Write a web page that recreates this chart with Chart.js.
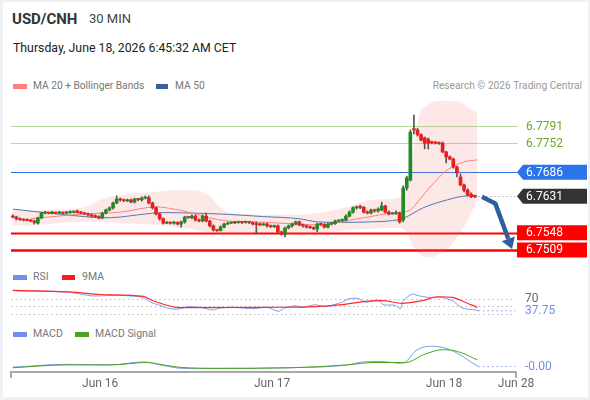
<!DOCTYPE html>
<html>
<head>
<meta charset="utf-8">
<script src="https://cdn.jsdelivr.net/npm/chart.js@4.4.1/dist/chart.umd.min.js"></script>
<style>
  html, body { margin: 0; padding: 0; }
  body { width: 590px; height: 400px; background: #eef1f5; position: relative; overflow: hidden;
         font-family: Roboto, "Liberation Sans", Arial, sans-serif; }
  #card { position: absolute; left: 3px; top: 2px; width: 585px; height: 395px; background: #fff; }
  .txt { position: absolute; white-space: nowrap; line-height: 1; }
  .sw { position: absolute; height: 5px; }
  canvas { position: absolute; left: 0; }
</style>
</head>
<body>
<div id="card"></div>

<div class="txt" style="left:12px; top:12px; font-size:15px; font-weight:bold; color:#333">USD/CNH</div>
<div class="txt" style="left:89px; top:12px; font-size:13px; color:#444">30 MIN</div>
<div class="txt" style="left:13px; top:42px; font-size:12.3px; color:#222">Thursday, June 18, 2026 6:45:32 AM CET</div>

<div class="sw" style="left:13px; top:84px; width:14px; background:#ff7f7f"></div>
<div class="txt" style="left:33px; top:81px; font-size:10.2px; color:#777">MA 20 + Bollinger Bands</div>
<div class="sw" style="left:156px; top:84px; width:12px; background:#3a609e"></div>
<div class="txt" style="left:175px; top:81px; font-size:10.2px; color:#777">MA 50</div>
<div class="txt" style="right:8px; top:81px; font-size:10.2px; color:#999">Research © 2026 Trading Central</div>

<div class="sw" style="left:13px; top:275px; width:14px; background:#6f8fe8"></div>
<div class="txt" style="left:33px; top:272px; font-size:10.5px; color:#777">RSI</div>
<div class="sw" style="left:62px; top:275px; width:13px; background:#ff1a1a"></div>
<div class="txt" style="left:82px; top:272px; font-size:10.5px; color:#777">9MA</div>

<div class="sw" style="left:13px; top:332px; width:14px; background:#6f8fe8"></div>
<div class="txt" style="left:33px; top:329px; font-size:10.5px; color:#777">MACD</div>
<div class="sw" style="left:75px; top:332px; width:14px; background:#4aa31a"></div>
<div class="txt" style="left:95px; top:329px; font-size:10.5px; color:#777">MACD Signal</div>

<canvas id="price" width="590" height="164" style="top:98px"></canvas>
<canvas id="rsi" width="590" height="33" style="top:286px"></canvas>
<canvas id="macd" width="590" height="57" style="top:340px"></canvas>

<script>
// 30 min candles
const opens = [
  6.7586, 6.7584, 6.7580, 6.7578, 6.7577, 6.7577, 6.7575, 6.7570, 6.7582, 6.7593,
  6.7594, 6.7593, 6.7594, 6.7593, 6.7594, 6.7593, 6.7594, 6.7595, 6.7598, 6.7594,
  6.7593, 6.7591, 6.7589, 6.7586, 6.7585, 6.7582, 6.7593, 6.7600, 6.7605, 6.7616,
  6.7625, 6.7623, 6.7621, 6.7623, 6.7618, 6.7625, 6.7623, 6.7627, 6.7628, 6.7616,
  6.7605, 6.7591, 6.7580, 6.7570, 6.7572, 6.7570, 6.7572, 6.7568, 6.7573, 6.7584,
  6.7582, 6.7586, 6.7577, 6.7575, 6.7586, 6.7575, 6.7564, 6.7555, 6.7553, 6.7561,
  6.7568, 6.7570, 6.7572, 6.7571, 6.7573, 6.7572, 6.7573, 6.7572, 6.7568, 6.7567,
  6.7566, 6.7568, 6.7564, 6.7562, 6.7564, 6.7550, 6.7545, 6.7559, 6.7564, 6.7568,
  6.7573, 6.7566, 6.7564, 6.7561, 6.7560, 6.7557, 6.7568, 6.7567, 6.7561, 6.7568,
  6.7569, 6.7575, 6.7576, 6.7577, 6.7586, 6.7595, 6.7605, 6.7607, 6.7606, 6.7595,
  6.7593, 6.7600, 6.7598, 6.7600, 6.7609, 6.7595, 6.7591, 6.7592, 6.7593, 6.7577,
  6.7650, 6.7668, 6.7785, 6.7782, 6.7771, 6.7764, 6.7761, 6.7755, 6.7753, 6.7752,
  6.7752, 6.7732, 6.7721, 6.7716, 6.7698, 6.7675, 6.7657, 6.7645, 6.7636, 6.7632
];
const closes = [
  6.7584, 6.7580, 6.7578, 6.7577, 6.7576, 6.7575, 6.7572, 6.7582, 6.7593, 6.7594,
  6.7593, 6.7594, 6.7593, 6.7594, 6.7593, 6.7594, 6.7595, 6.7596, 6.7594, 6.7593,
  6.7591, 6.7589, 6.7586, 6.7585, 6.7582, 6.7593, 6.7600, 6.7605, 6.7616, 6.7625,
  6.7623, 6.7621, 6.7623, 6.7618, 6.7625, 6.7624, 6.7627, 6.7628, 6.7616, 6.7605,
  6.7591, 6.7580, 6.7570, 6.7572, 6.7570, 6.7572, 6.7568, 6.7573, 6.7584, 6.7583,
  6.7586, 6.7577, 6.7575, 6.7586, 6.7575, 6.7564, 6.7555, 6.7553, 6.7561, 6.7568,
  6.7570, 6.7572, 6.7571, 6.7573, 6.7572, 6.7573, 6.7572, 6.7568, 6.7567, 6.7566,
  6.7568, 6.7564, 6.7562, 6.7564, 6.7550, 6.7545, 6.7559, 6.7564, 6.7568, 6.7573,
  6.7566, 6.7564, 6.7561, 6.7560, 6.7557, 6.7568, 6.7567, 6.7561, 6.7568, 6.7569,
  6.7575, 6.7576, 6.7577, 6.7586, 6.7595, 6.7605, 6.7607, 6.7606, 6.7595, 6.7593,
  6.7600, 6.7598, 6.7602, 6.7609, 6.7595, 6.7591, 6.7592, 6.7593, 6.7573, 6.7650,
  6.7673, 6.7777, 6.7782, 6.7771, 6.7759, 6.7752, 6.7752, 6.7753, 6.7752, 6.7751,
  6.7732, 6.7721, 6.7716, 6.7698, 6.7684, 6.7657, 6.7645, 6.7634, 6.7630, 6.7631
];
const highs = [
  6.7589, 6.7586, 6.7582, 6.7580, 6.7580, 6.7578, 6.7577, 6.7584, 6.7595, 6.7597,
  6.7595, 6.7597, 6.7595, 6.7597, 6.7595, 6.7597, 6.7598, 6.7598, 6.7600, 6.7597,
  6.7595, 6.7593, 6.7591, 6.7589, 6.7587, 6.7595, 6.7602, 6.7607, 6.7618, 6.7632,
  6.7627, 6.7625, 6.7625, 6.7625, 6.7627, 6.7626, 6.7630, 6.7632, 6.7632, 6.7618,
  6.7607, 6.7593, 6.7582, 6.7574, 6.7573, 6.7574, 6.7573, 6.7575, 6.7586, 6.7585,
  6.7589, 6.7589, 6.7580, 6.7589, 6.7593, 6.7577, 6.7566, 6.7556, 6.7564, 6.7570,
  6.7573, 6.7573, 6.7574, 6.7575, 6.7574, 6.7575, 6.7574, 6.7573, 6.7573, 6.7570,
  6.7570, 6.7570, 6.7566, 6.7566, 6.7566, 6.7552, 6.7561, 6.7566, 6.7570, 6.7575,
  6.7575, 6.7568, 6.7566, 6.7564, 6.7562, 6.7570, 6.7570, 6.7569, 6.7570, 6.7572,
  6.7577, 6.7578, 6.7580, 6.7589, 6.7598, 6.7607, 6.7609, 6.7611, 6.7608, 6.7598,
  6.7602, 6.7602, 6.7605, 6.7618, 6.7611, 6.7598, 6.7594, 6.7598, 6.7595, 6.7655,
  6.7677, 6.7782, 6.7816, 6.7786, 6.7773, 6.7766, 6.7764, 6.7757, 6.7756, 6.7755,
  6.7755, 6.7734, 6.7723, 6.7718, 6.7700, 6.7682, 6.7659, 6.7648, 6.7639, 6.7634
];
const lows = [
  6.7582, 6.7577, 6.7576, 6.7575, 6.7575, 6.7573, 6.7568, 6.7568, 6.7580, 6.7591,
  6.7591, 6.7591, 6.7591, 6.7592, 6.7591, 6.7591, 6.7592, 6.7593, 6.7593, 6.7591,
  6.7589, 6.7586, 6.7584, 6.7583, 6.7580, 6.7580, 6.7591, 6.7598, 6.7602, 6.7614,
  6.7620, 6.7619, 6.7619, 6.7616, 6.7616, 6.7621, 6.7620, 6.7625, 6.7614, 6.7602,
  6.7589, 6.7577, 6.7568, 6.7569, 6.7568, 6.7568, 6.7566, 6.7561, 6.7570, 6.7581,
  6.7580, 6.7575, 6.7573, 6.7573, 6.7573, 6.7561, 6.7552, 6.7551, 6.7552, 6.7559,
  6.7567, 6.7569, 6.7569, 6.7570, 6.7569, 6.7570, 6.7569, 6.7566, 6.7548, 6.7565,
  6.7565, 6.7561, 6.7560, 6.7560, 6.7548, 6.7543, 6.7539, 6.7557, 6.7561, 6.7566,
  6.7564, 6.7561, 6.7559, 6.7558, 6.7555, 6.7550, 6.7565, 6.7559, 6.7559, 6.7566,
  6.7567, 6.7573, 6.7574, 6.7575, 6.7584, 6.7593, 6.7602, 6.7603, 6.7593, 6.7591,
  6.7591, 6.7595, 6.7595, 6.7598, 6.7593, 6.7589, 6.7590, 6.7590, 6.7570, 6.7573,
  6.7645, 6.7666, 6.7773, 6.7768, 6.7757, 6.7739, 6.7739, 6.7750, 6.7750, 6.7749,
  6.7730, 6.7707, 6.7714, 6.7695, 6.7675, 6.7655, 6.7641, 6.7632, 6.7628, 6.7628
];

// moving averages and bands (candle index, price)
const ma20X = [5, 10, 20, 30, 40, 45, 50, 55, 60, 70, 80, 85.8, 94.2, 102.6, 108, 111, 113.7, 116.5, 121.3, 125.8, 129.7];
const ma20Y = [6.7580, 6.7584, 6.7591, 6.7595, 6.7607, 6.7602, 6.7593, 6.7582, 6.7575, 6.7572, 6.7568, 6.7566,
               6.7577, 6.7589, 6.7595, 6.7600, 6.7625, 6.7652, 6.7691, 6.7709, 6.7714];
const ma50X = [0, 10, 20, 25, 30, 35, 42, 50, 60, 70, 80, 85, 90, 95, 100, 105, 109, 114.6, 121.3, 126.9, 129.7];
const ma50Y = [6.7602, 6.7593, 6.7585, 6.7582, 6.7584, 6.7589, 6.7594, 6.7593, 6.7590, 6.7585, 6.7580, 6.7573,
               6.7572, 6.7572, 6.7573, 6.7575, 6.7581, 6.7605, 6.7623, 6.7632, 6.7630];
const bandX = [0, 5, 10, 20, 25, 30, 35, 40, 45, 50, 55, 58, 60, 65, 70, 80, 85, 90, 95, 100, 105, 108,
               110, 111.8, 113.7, 115, 117.4, 119.3, 121.3, 124.9, 126.9, 129.7];
const bandUp = [6.7600, 6.7598, 6.7600, 6.7607, 6.7625, 6.7634, 6.7639, 6.7641, 6.7645, 6.7645, 6.7632, 6.7605,
                6.7595, 6.7591, 6.7589, 6.7589, 6.7593, 6.7600, 6.7611, 6.7623, 6.7625, 6.7628,
                6.7661, 6.7736, 6.7823, 6.7834, 6.7846, 6.7848, 6.7848, 6.7846, 6.7834, 6.7821];
const bandLo = [6.7566, 6.7564, 6.7568, 6.7573, 6.7573, 6.7570, 6.7568, 6.7566, 6.7561, 6.7557, 6.7548, 6.7545,
                6.7543, 6.7545, 6.7548, 6.7543, 6.7545, 6.7550, 6.7555, 6.7557, 6.7559, 6.7559,
                6.7550, 6.7516, 6.7500, 6.7493, 6.7493, 6.7502, 6.7510, 6.7548, 6.7575, 6.7623];

// support / resistance levels on the right
const levels = [6.7791, 6.7752, 6.7686, 6.7631, 6.7548, 6.7509];

// projected path (candle index, price)
const projX = [131, 134.7, 139.4];
const projY = [6.7630, 6.7615, 6.7511];

// RSI panel
const rsiX = [0, 15.1, 18.8, 22.4, 29.1, 35.5, 37.5, 39.2, 41.1, 43.1, 45.9, 48.7, 52.3, 55.9, 57.9, 61.5,
              67.1, 71, 74.1, 76, 78.8, 81, 84.4, 87.2, 91.9, 93.6, 96.4, 98.4, 102, 103.4, 106.8, 108.2,
              109, 111.5, 113.2, 116, 119.9, 122.7, 125.5, 129.1, 130];
const rsiY = [91.3, 87.9, 82.5, 77.2, 79.1, 75.3, 66.5, 57.7, 52.4, 45.2, 41.7, 48.7, 47.1, 39.9, 45.2, 47.1,
              43.3, 47.1, 36.4, 45.2, 51.3, 47.1, 54, 48.7, 60.4, 69.2, 71.1, 60.4, 66.5, 54, 52.4, 42.5,
              64.7, 82.5, 78, 73.7, 73.7, 64.7, 45.2, 39.9, 37.75];
const ma9X = [0, 17.9, 24.4, 36.4, 39.2, 46.7, 71, 84.4, 91.9, 98.4, 103.1, 108.7, 114.3, 118.7, 122.7, 126.3, 129.7];
const ma9Y = [92.4, 87.1, 81.2, 76.4, 64.7, 46, 47, 48.7, 54, 63.1, 64.7, 57.7, 64.7, 75.3, 73.7, 60.4, 47];
const rsiRefs = [70, 50, 30];

// MACD panel
const macdX = [0, 15.1, 27.2, 36.4, 42, 47.5, 57, 77.4, 93.4, 97, 102.6, 108.2, 109.6, 112.3, 114.6, 117.4,
               120.7, 124.1, 127.7, 130];
const macdY = [-0.00004, 0.0001, 0.00007, 0.00022, 0.00004, -0.0001, -0.0001, -0.00007, 0.00007, 0.0002,
               0.00024, 0.00015, 0.0002, 0.00074, 0.00094, 0.00099, 0.0009, 0.00065, 0.00024, -0.00001];
const sigX = [0, 15.1, 27.2, 37.5, 41.1, 46.7, 57, 77.4, 93.4, 100.6, 108.2, 110.1, 114.6, 120.2, 124.1, 129.7];
const sigY = [-0.00007, 0.00007, 0.00007, 0.00019, 0.0001, -0.00005, -0.0001, -0.00007, 0.00007, 0.00019,
              0.00019, 0.0002, 0.00057, 0.00082, 0.00074, 0.00032];

// time axis
const tickPos = [24.4, 72.4, 120.4, 140.5];
const tickLabels = ["Jun 16", "Jun 17", "Jun 18", "Jun 28"];
const lastX = 130, endX = 140.3;

Chart.defaults.font.family = "Roboto, 'Liberation Sans', Arial, sans-serif";
Chart.defaults.animation = false;
Chart.defaults.plugins.legend.display = false;
Chart.defaults.plugins.tooltip.enabled = false;

const pad = { left: 11, right: 74, top: 0, bottom: 0 };
const xAxis = { type: "linear", min: -0.5, max: 140.5, display: false, offset: false };
const pts = (xs, ys) => xs.map((v, i) => ({ x: v, y: ys[i] }));
const UP = "#228a22", DOWN = "#ee1c1c";
const FONT = "12px Roboto, 'Liberation Sans', Arial, sans-serif";

const levelStyles = [
  { line: "#b6da9c", width: 1, text: "#69a82f" },
  { line: "#bcd6aa", width: 1, text: "#69a82f" },
  { line: "#2a73e8", width: 1, box: "#2a73e8", tip: true },
  { line: "#888", width: 1, dash: [1, 3], box: "#333", tip: true, fromLast: true },
  { line: "#ff0000", width: 2, box: "#ff0000" },
  { line: "#ff0000", width: 2.5, box: "#ff0000" }
];

const levelPlugin = {
  id: "levels",
  beforeDatasetsDraw(chart) {
    const { ctx, chartArea, scales: { x, y } } = chart;
    ctx.save();
    levels.forEach((lv, k) => {
      const st = levelStyles[k];
      const py = Math.round(y.getPixelForValue(lv)) + 0.5;
      const x0 = st.fromLast ? x.getPixelForValue(lastX) : chartArea.left;
      ctx.strokeStyle = st.line;
      ctx.lineWidth = st.width;
      ctx.setLineDash(st.dash || []);
      ctx.beginPath();
      ctx.moveTo(x0, py);
      ctx.lineTo(chartArea.right + 2, py);
      ctx.stroke();
    });
    ctx.restore();
  },
  afterDatasetsDraw(chart) {
    const { ctx, chartArea, scales: { x, y } } = chart;
    ctx.save();
    ctx.font = FONT;
    ctx.textBaseline = "middle";
    levels.forEach((lv, k) => {
      const st = levelStyles[k];
      const py = y.getPixelForValue(lv);
      const l = chartArea.right + 1, r = 587, h = 7.5;
      if (st.box) {
        ctx.fillStyle = st.box;
        ctx.beginPath();
        if (st.tip) {
          ctx.moveTo(l, py);
          ctx.lineTo(l + 6, py - h);
          ctx.lineTo(r, py - h);
          ctx.lineTo(r, py + h);
          ctx.lineTo(l + 6, py + h);
        } else {
          ctx.rect(l, py - h, r - l, h * 2);
        }
        ctx.closePath();
        ctx.fill();
        ctx.fillStyle = "#fff";
      } else {
        ctx.fillStyle = st.text;
      }
      ctx.fillText(lv.toFixed(4), 526, py + 0.5);
    });

    // projection arrow
    const p = projX.map((v, k) => ({ x: x.getPixelForValue(v), y: y.getPixelForValue(projY[k]) }));
    const tip = p[p.length - 1], prev = p[p.length - 2];
    const dx = tip.x - prev.x, dy = tip.y - prev.y, len = Math.hypot(dx, dy);
    const ux = dx / len, uy = dy / len;
    const bx = tip.x - ux * 11, by = tip.y - uy * 11;
    ctx.strokeStyle = "#2f5e9e";
    ctx.fillStyle = "#2f5e9e";
    ctx.lineWidth = 4.5;
    ctx.lineJoin = "round";
    ctx.beginPath();
    ctx.moveTo(p[0].x, p[0].y);
    for (let k = 1; k < p.length - 1; k++) ctx.lineTo(p[k].x, p[k].y);
    ctx.lineTo(bx, by);
    ctx.stroke();
    ctx.beginPath();
    ctx.moveTo(tip.x, tip.y);
    ctx.lineTo(bx - uy * 7, by + ux * 7);
    ctx.lineTo(bx + uy * 7, by - ux * 7);
    ctx.closePath();
    ctx.fill();
    ctx.restore();
  }
};

new Chart(document.getElementById("price"), {
  type: "bar",
  data: {
    datasets: [
      {
        data: opens.map((o, i) => ({ x: i, y: [o, closes[i]] })),
        backgroundColor: (c) => {
          const i = c.dataIndex;
          return closes[i] > opens[i] ? UP : closes[i] < opens[i] ? DOWN : "#555";
        },
        barThickness: 3, minBarLength: 1, grouped: false, order: 1
      },
      {
        data: lows.map((l, i) => ({ x: i, y: [l, highs[i]] })),
        backgroundColor: "#555",
        barThickness: 1, grouped: false, order: 2
      },
      {
        type: "line", data: pts(ma20X, ma20Y), borderColor: "#ff8080", borderWidth: 1,
        pointRadius: 0, cubicInterpolationMode: "monotone", order: 3
      },
      {
        type: "line", data: pts(ma50X, ma50Y), borderColor: "#5677ad", borderWidth: 1,
        pointRadius: 0, cubicInterpolationMode: "monotone", order: 4
      },
      {
        type: "line", data: pts(bandX, bandUp), borderWidth: 0, borderColor: "rgba(0,0,0,0)",
        backgroundColor: "rgba(245,110,110,0.16)", fill: "+1",
        pointRadius: 0, cubicInterpolationMode: "monotone", order: 10
      },
      {
        type: "line", data: pts(bandX, bandLo), borderWidth: 0, borderColor: "rgba(0,0,0,0)",
        pointRadius: 0, cubicInterpolationMode: "monotone", order: 11
      }
    ]
  },
  options: {
    responsive: false,
    layout: { padding: pad },
    scales: {
      x: xAxis,
      y: { type: "linear", min: 6.74817, max: 6.78547, display: false }
    }
  },
  plugins: [levelPlugin]
});

const rsiPlugin = {
  id: "rsiRefs",
  beforeDatasetsDraw(chart) {
    const { ctx, chartArea, scales: { y } } = chart;
    ctx.save();
    ctx.strokeStyle = "#bbb";
    ctx.lineWidth = 1;
    ctx.setLineDash([1.5, 3]);
    rsiRefs.forEach((v) => {
      const py = Math.round(y.getPixelForValue(v)) + 0.5;
      ctx.beginPath();
      ctx.moveTo(chartArea.left, py);
      ctx.lineTo(chartArea.right - 1, py);
      ctx.stroke();
    });
    ctx.restore();
  },
  afterDatasetsDraw(chart) {
    const { ctx, chartArea, scales: { y } } = chart;
    ctx.save();
    ctx.font = FONT;
    ctx.textBaseline = "middle";
    ctx.fillStyle = "#666";
    ctx.fillText(String(rsiRefs[0]), chartArea.right + 9, y.getPixelForValue(rsiRefs[0]));
    ctx.fillStyle = "#6f8fe8";
    const last = rsiY[rsiY.length - 1];
    ctx.fillText(last.toFixed(2), chartArea.right + 9, y.getPixelForValue(last));
    ctx.restore();
  }
};

new Chart(document.getElementById("rsi"), {
  type: "line",
  data: {
    datasets: [
      { data: pts(ma9X, ma9Y), borderColor: "#ff2a2a", borderWidth: 1.2, pointRadius: 0, cubicInterpolationMode: "monotone", order: 1 },
      { data: pts(rsiX, rsiY), borderColor: "#7b9cf0", borderWidth: 1, pointRadius: 0, tension: 0.2, order: 2 },
      { data: [{ x: lastX, y: rsiY[rsiY.length - 1] }, { x: endX, y: rsiY[rsiY.length - 1] }],
        borderColor: "#7b9cf0", borderWidth: 1, borderDash: [1.5, 3], pointRadius: 0, order: 3 }
    ]
  },
  options: {
    responsive: false,
    layout: { padding: pad },
    scales: {
      x: xAxis,
      y: { type: "linear", min: 15.9, max: 103.9, display: false }
    }
  },
  plugins: [rsiPlugin]
});

// time axis under the MACD panel, placed through the x scale
const macdPlugin = {
  id: "macdExtras",
  afterDraw(chart) {
    const { ctx, chartArea, scales: { x, y } } = chart;
    const ay = chartArea.bottom + 1;
    ctx.save();
    ctx.strokeStyle = "#aaa";
    ctx.lineWidth = 2;
    ctx.beginPath();
    ctx.moveTo(chartArea.left, ay + 6);
    ctx.lineTo(chartArea.left, ay);
    ctx.lineTo(chartArea.right, ay);
    ctx.lineTo(chartArea.right, ay + 6);
    ctx.stroke();
    ctx.font = FONT;
    ctx.textBaseline = "middle";
    ctx.textAlign = "center";
    ctx.fillStyle = "#666";
    tickPos.forEach((v, i) => ctx.fillText(tickLabels[i], x.getPixelForValue(v), ay + 11.5));
    ctx.textAlign = "left";
    ctx.fillStyle = "#6f8fe8";
    const last = macdY[macdY.length - 1];
    ctx.fillText(last.toFixed(2), chartArea.right + 9, y.getPixelForValue(last));
    ctx.restore();
  }
};

new Chart(document.getElementById("macd"), {
  type: "line",
  data: {
    datasets: [
      { data: pts(macdX, macdY), borderColor: "#7b9cf0", borderWidth: 1, pointRadius: 0, cubicInterpolationMode: "monotone", order: 2 },
      { data: pts(sigX, sigY), borderColor: "#4aa31a", borderWidth: 1, pointRadius: 0, cubicInterpolationMode: "monotone", order: 1 },
      { data: [{ x: lastX, y: macdY[macdY.length - 1] }, { x: endX, y: macdY[macdY.length - 1] }],
        borderColor: "#7b9cf0", borderWidth: 1, borderDash: [1.5, 3], pointRadius: 0, order: 3 }
    ]
  },
  options: {
    responsive: false,
    layout: { padding: { left: 11, right: 74, top: 0, bottom: 26 } },
    scales: {
      x: xAxis,
      y: { type: "linear", min: -0.00023, max: 0.0013, display: false }
    }
  },
  plugins: [macdPlugin]
});
</script>
</body>
</html>
